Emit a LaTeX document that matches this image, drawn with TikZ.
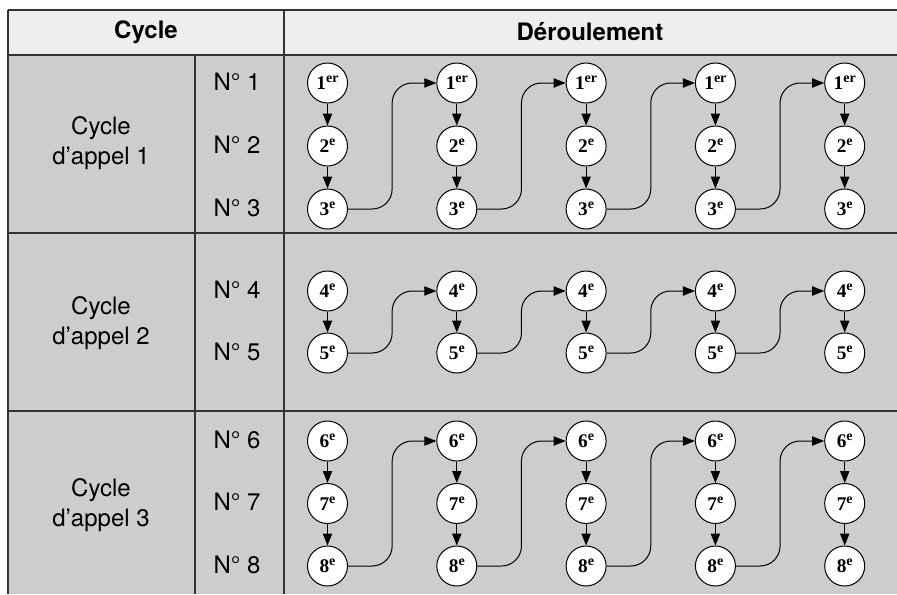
\documentclass[tikz,border=0pt]{standalone}
\usepackage{fontspec}
\setmainfont{TeX Gyre Heros}
% serif faces for the rank circles: numeral and raised suffix
\newfontfamily\rankfont{Liberation Serif}[Scale=1.45]
\newfontfamily\suffixfont{Liberation Serif}[Scale=1.05]
\usetikzlibrary{arrows.meta,calc}

\definecolor{headbg}{HTML}{EEEEEE}
\definecolor{bodybg}{HTML}{CDCDCD}
\definecolor{rulecol}{HTML}{333333}

% rank label: bold numeral with a raised suffix
\newcommand\rk[2]{{\rankfont\bfseries #1}\raisebox{5pt}{\suffixfont\bfseries #2}}

\begin{document}
\begin{tikzpicture}[x=0.75pt,y=-0.75pt,
  rank/.style={circle,draw=black,fill=white,line width=0.75pt,minimum size=30pt,inner sep=0pt},
  flow/.style={draw=black,line width=0.75pt,-{Triangle[length=9pt,width=7pt]}},
  hop/.style={flow,rounded corners=15pt},
  gridline/.style={draw=rulecol,line width=1.4pt},
  lab/.style={font=\fontsize{18}{23}\selectfont,align=center},
  head/.style={font=\fontsize{18}{23}\selectfont\bfseries}]

\useasboundingbox (0,0) rectangle (897,594);
\fill[white] (0,0) rectangle (897,594);

% table background
\fill[headbg] (8,10) rectangle (897,55);
\fill[bodybg] (8,55) rectangle (897,594);

% table rules
\draw[gridline] (8,10) -- (897,10);
\draw[gridline] (8,55) -- (897,55);
\draw[gridline] (8,233) -- (897,233);
\draw[gridline] (8,411) -- (897,411);
\draw[gridline] (8,10) -- (8,594);
\draw[gridline] (195,55) -- (195,594);
\draw[gridline] (284,10) -- (284,594);

% header
\node[head] (hcycle) at (146,32) {Cycle};
\node[head] (hderoul) at (590,32) {Déroulement};

% cycle labels
\node[lab] (g1) at (101,143) {Cycle\\d’appel 1};
\node[lab] (g2) at (101,323) {Cycle\\d’appel 2};
\node[lab] (g3) at (101,505) {Cycle\\d’appel 3};

% call numbers
\node[lab] (n1) at (237,82) {N° 1};
\node[lab] (n2) at (237,145) {N° 2};
\node[lab] (n3) at (237,208) {N° 3};
\node[lab] (n4) at (237,290) {N° 4};
\node[lab] (n5) at (237,352) {N° 5};
\node[lab] (n6) at (237,440) {N° 6};
\node[lab] (n7) at (237,502) {N° 7};
\node[lab] (n8) at (237,565) {N° 8};

% rank circles, five passes per cycle
\foreach \k in {1,...,5} {
  \pgfmathsetmacro\cx{327.5+129.3*(\k-1)}
  \node[rank] (a\k) at (\cx,83)  {\rk{1}{er}};
  \node[rank] (b\k) at (\cx,146) {\rk{2}{e}};
  \node[rank] (c\k) at (\cx,209) {\rk{3}{e}};
  \node[rank] (d\k) at (\cx,291) {\rk{4}{e}};
  \node[rank] (e\k) at (\cx,353) {\rk{5}{e}};
  \node[rank] (f\k) at (\cx,441) {\rk{6}{e}};
  \node[rank] (g\k) at (\cx,503.5) {\rk{7}{e}};
  \node[rank] (h\k) at (\cx,566) {\rk{8}{e}};
  \draw[flow] (a\k) -- (b\k);
  \draw[flow] (b\k) -- (c\k);
  \draw[flow] (d\k) -- (e\k);
  \draw[flow] (f\k) -- (g\k);
  \draw[flow] (g\k) -- (h\k);
}

% hops from the last rank of a pass to the first rank of the next
\foreach \k [evaluate=\k as \n using int(\k+1)] in {1,...,4} {
  \coordinate (m\k) at ($(c\k.east)!.5!(a\n.west)$);
  \draw[hop] (c\k.east) -| (m\k |- a\n.west) -- (a\n.west);
  \draw[hop] (e\k.east) -| (m\k |- d\n.west) -- (d\n.west);
  \draw[hop] (h\k.east) -| (m\k |- f\n.west) -- (f\n.west);
}
\end{tikzpicture}
\end{document}
